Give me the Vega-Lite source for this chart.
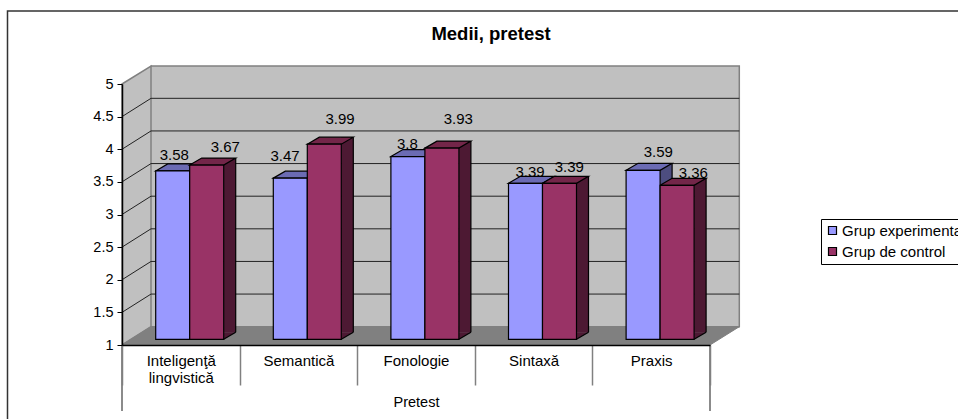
{
"$schema":"https://vega.github.io/schema/vega-lite/v6.json",
"width":958,"height":419,"padding":0,"autosize":{"type":"none"},
"background":"white",
"config":{"font":"Liberation Sans","view":{"stroke":null}},
"title":{"text":"Medii, pretest","fontSize":18.5,"fontWeight":"bold","color":"#000","anchor":"middle","dx":12,"dy":47,"font":"Liberation Sans"},
"data":{"values":[
{"category":"Inteligenţă lingvistică","series":"Grup experimental","value":3.58},
{"category":"Inteligenţă lingvistică","series":"Grup de control","value":3.67},
{"category":"Semantică","series":"Grup experimental","value":3.47},
{"category":"Semantică","series":"Grup de control","value":3.99},
{"category":"Fonologie","series":"Grup experimental","value":3.8},
{"category":"Fonologie","series":"Grup de control","value":3.93},
{"category":"Sintaxă","series":"Grup experimental","value":3.39},
{"category":"Sintaxă","series":"Grup de control","value":3.39},
{"category":"Praxis","series":"Grup experimental","value":3.59},
{"category":"Praxis","series":"Grup de control","value":3.36}
]},
"layer":[
{"data":{"values":[{"a":1}]},
 "mark":{"type":"point","shape":"M-173.3,120 V-334 H820","size":4,"filled":false,"stroke":"#333","strokeWidth":1.5,"opacity":1},
 "encoding":{
  "x":{"datum":"Inteligenţă lingvistică","type":"nominal","sort":["Inteligenţă lingvistică","Semantică","Fonologie","Sintaxă","Praxis"],"scale":{"domain":["Inteligenţă lingvistică","Semantică","Fonologie","Sintaxă","Praxis"],"range":[122,710],"paddingInner":0,"paddingOuter":0},
   "axis":{"orient":"bottom","offset":-74,"title":"Pretest","titleFontWeight":"normal","titleFontSize":14.5,"titleColor":"#000","titleY":57,"titleBaseline":"middle","labelAngle":0,"labelFontSize":15,"labelColor":"#000","labelPadding":-32,"labelLineHeight":17,"labelExpr":"datum.label == 'Inteligenţă lingvistică' ? ['Inteligenţă','lingvistică'] : datum.label","tickBand":"extent","tickSize":40,"tickColor":"#808080","tickWidth":1.5,"domainColor":"#000","domainWidth":1.5,"zindex":1,"grid":false}},
  "y":{"datum":1,"type":"quantitative","scale":{"domain":[1,5],"range":[345,84],"zero":false,"nice":false},
   "axis":{"orient":"left","offset":-122,"title":null,"values":[1,1.5,2,2.5,3,3.5,4,4.5,5],"format":"~g","labelFontSize":14.5,"labelColor":"#000","tickSize":5,"tickColor":"#000","domainColor":"#000","domainWidth":1.5,"labelPadding":4,"grid":false,"zindex":1}}
 }},
{"data":{"values":[{"a":1}]},
 "mark":{"type":"point","shape":"M-29.8,-279 H558.5 V-18.3 H-29.8 Z M-58.8,-261 L-29.8,-279 V-18.3 L-58.8,0 Z","size":4,"filled":true,"fill":"#c0c0c0","stroke":"#808080","strokeWidth":1.5,"opacity":1},
 "encoding":{"x":{"datum":"Inteligenţă lingvistică","type":"nominal"},"y":{"datum":1,"type":"quantitative"}}},
{"data":{"values":[{"g":1.5},{"g":2},{"g":2.5},{"g":3},{"g":3.5},{"g":4},{"g":4.5}]},
 "mark":{"type":"point","shape":"M-58.8,0 L-29.8,-18.3 H558.5","size":4,"filled":false,"stroke":"#222","strokeWidth":1,"opacity":1},
 "encoding":{"x":{"datum":"Inteligenţă lingvistică","type":"nominal"},"y":{"field":"g","type":"quantitative"}}},
{"data":{"values":[{"a":1}]},
 "mark":{"type":"point","shape":"M-58.8,0 L-29.8,-18.3 H558.5 L529.2,0 Z","size":4,"filled":true,"fill":"#808080","stroke":"#808080","strokeWidth":1,"opacity":1},
 "encoding":{"x":{"datum":"Inteligenţă lingvistică","type":"nominal"},"y":{"datum":1,"type":"quantitative"}}},
{"data":{"values":[{"a":1}]},
 "mark":{"type":"point","shape":"M-58.8,0 V66 M529.2,0 V66","size":4,"filled":false,"stroke":"#666","strokeWidth":1.5,"opacity":1},
 "encoding":{"x":{"datum":"Inteligenţă lingvistică","type":"nominal"},"y":{"datum":1,"type":"quantitative"}}},
{"transform":[{"filter":"datum.series==='Grup experimental'"}],
 "mark":{"type":"bar","width":12,"xOffset":14.9,"yOffset":-12.7,"y2Offset":-12.7,"fill":"#4d4d80"},
 "encoding":{"x":{"field":"category","type":"nominal"},"y":{"field":"value","type":"quantitative"},"y2":{"datum":1}}},
{"transform":[{"filter":"datum.series==='Grup experimental'"}],
 "mark":{"type":"rule","xOffset":20.9,"yOffset":-12.7,"y2Offset":-12.7,"stroke":"#000","strokeWidth":1.2},
 "encoding":{"x":{"field":"category","type":"nominal"},"y":{"field":"value","type":"quantitative"},"y2":{"datum":1}}},
{"transform":[{"filter":"datum.series==='Grup experimental'"}],
 "mark":{"type":"point","shape":"M-17,-5.7 L-5,-12.7 H29 L17,-5.7 Z","size":4,"filled":true,"fill":"#6b6bb3","stroke":"#000","strokeWidth":1.2,"opacity":1},
 "encoding":{"x":{"field":"category","type":"nominal"},"xOffset":{"field":"series","type":"nominal","sort":["Grup experimental","Grup de control"],"scale":{"domain":["Grup experimental","Grup de control"],"range":[33.7,101.7],"paddingInner":0,"paddingOuter":0}},"y":{"field":"value","type":"quantitative"}}},
{"transform":[{"filter":"datum.series==='Grup de control'"}],
 "mark":{"type":"bar","width":12,"xOffset":48.9,"yOffset":-12.7,"y2Offset":-12.7,"fill":"#4d1933"},
 "encoding":{"x":{"field":"category","type":"nominal"},"y":{"field":"value","type":"quantitative"},"y2":{"datum":1}}},
{"transform":[{"filter":"datum.series==='Grup de control'"}],
 "mark":{"type":"point","shape":"M17,-5.7 L17,-12.7 H29 Z","size":4,"filled":true,"fill":"#4d1933","strokeWidth":0,"opacity":1},
 "encoding":{"x":{"field":"category","type":"nominal"},"xOffset":{"field":"series","type":"nominal"},"y":{"datum":1,"type":"quantitative"}}},
{"transform":[{"filter":"datum.series==='Grup de control'"}],
 "mark":{"type":"point","shape":"M17,-5.7 L29,-12.7","size":4,"filled":false,"stroke":"#000","strokeWidth":1.2,"opacity":1},
 "encoding":{"x":{"field":"category","type":"nominal"},"xOffset":{"field":"series","type":"nominal"},"y":{"datum":1,"type":"quantitative"}}},
{"transform":[{"filter":"datum.series==='Grup de control'"}],
 "mark":{"type":"rule","xOffset":54.9,"yOffset":-12.7,"y2Offset":-12.7,"stroke":"#000","strokeWidth":1.2},
 "encoding":{"x":{"field":"category","type":"nominal"},"y":{"field":"value","type":"quantitative"},"y2":{"datum":1}}},
{"transform":[{"filter":"datum.series==='Grup de control'"}],
 "mark":{"type":"point","shape":"M-17,-5.7 L-5,-12.7 H29 L17,-5.7 Z","size":4,"filled":true,"fill":"#732649","stroke":"#000","strokeWidth":1.2,"opacity":1},
 "encoding":{"x":{"field":"category","type":"nominal"},"xOffset":{"field":"series","type":"nominal"},"y":{"field":"value","type":"quantitative"}}},
{"mark":{"type":"bar","yOffset":-5.7,"y2Offset":-5.7,"stroke":"#000","strokeWidth":1.2},
 "encoding":{"x":{"field":"category","type":"nominal"},"xOffset":{"field":"series","type":"nominal"},"y":{"field":"value","type":"quantitative"},"y2":{"datum":1},
  "fill":{"field":"series","type":"nominal","sort":["Grup experimental","Grup de control"],"scale":{"domain":["Grup experimental","Grup de control"],"range":["#9999ff","#993366"]},
   "legend":{"orient":"none","legendX":821,"legendY":219,"title":null,"strokeColor":"#000","fillColor":"#fff","padding":4,"symbolType":"square","symbolSize":64,"symbolStrokeColor":"#000","symbolStrokeWidth":1.2,"labelFontSize":15,"labelColor":"#000","labelOffset":2,"rowPadding":5,"labelLimit":200}}}},
{"transform":[{"filter":"datum.category==='Inteligenţă lingvistică' && datum.series==='Grup experimental'"}],"mark":{"type":"text","fontSize":15,"color":"#000","baseline":"middle","dx":-6.5,"dy":-21.7},"encoding":{"x":{"field":"category","type":"nominal"},"y":{"field":"value","type":"quantitative"},"text":{"field":"value","type":"quantitative"}}},
{"transform":[{"filter":"datum.category==='Inteligenţă lingvistică' && datum.series==='Grup de control'"}],"mark":{"type":"text","fontSize":15,"color":"#000","baseline":"middle","dx":44.5,"dy":-24},"encoding":{"x":{"field":"category","type":"nominal"},"y":{"field":"value","type":"quantitative"},"text":{"field":"value","type":"quantitative"}}},
{"transform":[{"filter":"datum.category==='Semantică' && datum.series==='Grup experimental'"}],"mark":{"type":"text","fontSize":15,"color":"#000","baseline":"middle","dx":-13.4,"dy":-28},"encoding":{"x":{"field":"category","type":"nominal"},"y":{"field":"value","type":"quantitative"},"text":{"field":"value","type":"quantitative"}}},
{"transform":[{"filter":"datum.category==='Semantică' && datum.series==='Grup de control'"}],"mark":{"type":"text","fontSize":15,"color":"#000","baseline":"middle","dx":41.6,"dy":-31.2},"encoding":{"x":{"field":"category","type":"nominal"},"y":{"field":"value","type":"quantitative"},"text":{"field":"value","type":"quantitative"}}},
{"transform":[{"filter":"datum.category==='Fonologie' && datum.series==='Grup experimental'"}],"mark":{"type":"text","fontSize":15,"color":"#000","baseline":"middle","dx":-8.7,"dy":-18.6},"encoding":{"x":{"field":"category","type":"nominal"},"y":{"field":"value","type":"quantitative"},"text":{"field":"value","type":"quantitative"}}},
{"transform":[{"filter":"datum.category==='Fonologie' && datum.series==='Grup de control'"}],"mark":{"type":"text","fontSize":15,"color":"#000","baseline":"middle","dx":42.3,"dy":-34.5},"encoding":{"x":{"field":"category","type":"nominal"},"y":{"field":"value","type":"quantitative"},"text":{"field":"value","type":"quantitative"}}},
{"transform":[{"filter":"datum.category==='Sintaxă' && datum.series==='Grup experimental'"}],"mark":{"type":"text","fontSize":15,"color":"#000","baseline":"middle","dx":-3.6,"dy":-17.3},"encoding":{"x":{"field":"category","type":"nominal"},"y":{"field":"value","type":"quantitative"},"text":{"field":"value","type":"quantitative"}}},
{"transform":[{"filter":"datum.category==='Sintaxă' && datum.series==='Grup de control'"}],"mark":{"type":"text","fontSize":15,"color":"#000","baseline":"middle","dx":35.7,"dy":-22.3},"encoding":{"x":{"field":"category","type":"nominal"},"y":{"field":"value","type":"quantitative"},"text":{"field":"value","type":"quantitative"}}},
{"transform":[{"filter":"datum.category==='Praxis' && datum.series==='Grup experimental'"}],"mark":{"type":"text","fontSize":15,"color":"#000","baseline":"middle","dx":7.1,"dy":-24.3},"encoding":{"x":{"field":"category","type":"nominal"},"y":{"field":"value","type":"quantitative"},"text":{"field":"value","type":"quantitative"}}},
{"transform":[{"filter":"datum.category==='Praxis' && datum.series==='Grup de control'"}],"mark":{"type":"text","fontSize":15,"color":"#000","baseline":"middle","dx":42.1,"dy":-18.3},"encoding":{"x":{"field":"category","type":"nominal"},"y":{"field":"value","type":"quantitative"},"text":{"field":"value","type":"quantitative"}}}
]
}
